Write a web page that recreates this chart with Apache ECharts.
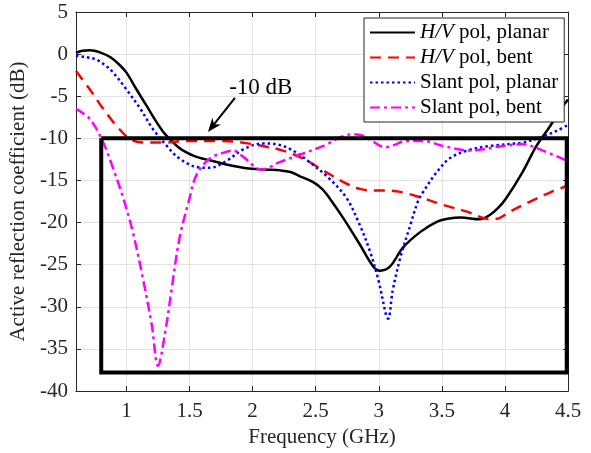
<!DOCTYPE html>
<html><head><meta charset="utf-8">
<script src="https://cdn.jsdelivr.net/npm/echarts@6/dist/echarts.min.js"></script>
<style>html,body{margin:0;padding:0;background:#fff}#c{width:591px;height:453px}</style>
</head><body><div id="c"></div>
<script>
// ---- data ----
const xTicks = [1, 1.5, 2, 2.5, 3, 3.5, 4, 4.5];
const yTicks = [5, 0, -5, -10, -15, -20, -25, -30, -35, -40];
const seriesNames = ['H/V pol, planar', 'H/V pol, bent', 'Slant pol, planar', 'Slant pol, bent'];

const hvPlanarX = [0.6,0.65,0.71,0.8,0.87,0.94,1.0,1.08,1.16,1.24,1.3,1.345,1.4,1.45,1.556,1.715,1.82,1.95,2.1,2.22,2.3,2.375,2.48,2.55,2.61,2.72,2.85,2.956,3.01,3.09,3.19,3.33,3.46,3.56,3.65,3.8,3.88,3.95,4.01,4.14,4.25,4.36,4.46,4.5];
const hvPlanarY = [0.15,0.4,0.45,0.15,-0.35,-1.2,-2.2,-4.2,-6.15,-8.1,-9.4,-10.1,-10.9,-11.45,-12.2,-12.8,-13.2,-13.55,-13.7,-13.8,-14.0,-14.5,-15.2,-16.0,-17.1,-19.5,-22.6,-25.2,-25.7,-25.2,-23.0,-21.1,-19.9,-19.5,-19.4,-19.6,-19.1,-18.2,-17.1,-14.0,-10.9,-8.5,-6.15,-5.4];

const hvBentX = [0.6,0.71,0.816,0.92,1.03,1.13,1.29,1.48,1.7,1.87,2.0,2.08,2.24,2.4,2.56,2.72,2.85,2.95,3.04,3.17,3.35,3.51,3.7,3.88,3.95,4.04,4.2,4.36,4.5];
const hvBentY = [-2.0,-4.2,-6.5,-8.5,-10.1,-10.5,-10.5,-10.3,-10.3,-10.4,-10.7,-10.9,-11.45,-12.4,-13.8,-15.2,-16.0,-16.2,-16.2,-16.35,-17.1,-17.9,-18.7,-19.6,-19.5,-18.7,-17.5,-16.4,-15.6];

const slPlanarX = [0.6,0.68,0.76,0.83,0.895,1.0,1.11,1.21,1.32,1.42,1.556,1.66,1.79,1.926,2.08,2.19,2.32,2.45,2.61,2.745,2.85,2.93,3.0,3.06,3.075,3.11,3.17,3.25,3.31,3.35,3.46,3.56,3.7,3.88,4.14,4.28,4.41,4.5];
const slPlanarY = [-0.2,-0.35,-0.65,-1.3,-2.2,-4.2,-6.5,-8.9,-10.9,-12.4,-13.4,-13.5,-12.7,-11.3,-10.6,-10.7,-11.45,-12.8,-14.8,-17.1,-20.3,-23.4,-27.0,-31.1,-31.4,-28.1,-24.2,-20.3,-17.5,-16.4,-14.0,-12.4,-11.45,-10.9,-10.5,-9.9,-9.1,-8.4];

const slBentX = [0.6,0.71,0.816,0.895,0.975,1.05,1.13,1.2,1.25,1.305,1.36,1.42,1.5,1.556,1.66,1.79,1.846,1.926,2.07,2.22,2.4,2.59,2.69,2.8,2.88,2.956,3.05,3.12,3.22,3.35,3.51,3.72,3.985,4.14,4.3,4.5];
const slBentY = [-6.5,-7.7,-10.5,-13.6,-17.1,-21.1,-26.6,-32.1,-37.0,-33.2,-27.7,-21.9,-17.1,-14.3,-12.4,-11.6,-11.45,-12.2,-13.7,-12.8,-11.8,-10.7,-9.9,-9.5,-9.7,-10.4,-11.05,-10.8,-10.3,-10.3,-10.9,-11.45,-10.9,-10.7,-11.45,-12.7];

const boxX = [0.8, 4.49, 4.49, 0.8, 0.8];
const boxY = [-10, -10, -37.8, -37.8, -10];
const arrowStart = [1.86, -5.2];
const arrowEnd = [1.646, -9.25];
const annotPos = [2.065, -4.0];
const annotText = '-10 dB';

// ---- chart ----
const zip = (xs, ys) => xs.map((x, i) => [x, ys[i]]);
const FONT = 'Liberation Serif';
const TXT = '#262626';
const FS = 21;
const chart = echarts.init(document.getElementById('c'), null, {renderer: 'canvas'});

function lineSeries(name, xs, ys, color, type, width) {
  return {
    name, type: 'line', data: zip(xs, ys), smooth: 0.35, symbol: 'none',
    lineStyle: {color, width, type, cap: 'butt'}, itemStyle: {color}, z: 3
  };
}

const option = {
  animation: false,
  backgroundColor: '#fff',
  grid: {left: 76, right: 23, top: 12, bottom: 59, containLabel: false},
  legend: {
    data: seriesNames,
    orient: 'vertical', left: 364, top: 18,
    padding: [4, 6, 4, 5], itemGap: 4, itemWidth: 45, itemHeight: 14,
    backgroundColor: '#fff', borderColor: TXT, borderWidth: 1, borderRadius: 0,
    itemStyle: {opacity: 0},
    textStyle: {fontFamily: FONT, fontSize: FS, color: '#000', lineHeight: 21,
      rich: {
        i: {fontFamily: FONT, fontSize: FS, fontStyle: 'italic', color: '#000', lineHeight: 21},
        n: {fontFamily: FONT, fontSize: FS, color: '#000', lineHeight: 21}
      }},
    formatter: n => n.startsWith('H/V') ? '{i|H/V}{n|' + n.slice(3) + '}' : '{n|' + n + '}'
  },
  xAxis: [{
    type: 'value', min: 0.6, max: 4.5, position: 'bottom',
    name: 'Frequency (GHz)', nameLocation: 'middle', nameGap: 32,
    nameTextStyle: {fontFamily: FONT, fontSize: FS, color: TXT},
    axisLine: {show: true, onZero: false, lineStyle: {color: TXT, width: 1}},
    axisTick: {show: true, inside: true, length: 5, customValues: xTicks, lineStyle: {color: TXT}},
    axisLabel: {customValues: xTicks, fontFamily: FONT, fontSize: FS, color: TXT, margin: 10,
      formatter: v => String(v)},
    splitLine: {show: true, lineStyle: {color: '#e3e3e3', width: 1}}
  }, {
    type: 'value', min: 0.6, max: 4.5, position: 'top',
    axisLine: {show: true, onZero: false, lineStyle: {color: TXT, width: 1}},
    axisTick: {show: true, inside: true, length: 5, customValues: xTicks, lineStyle: {color: TXT}},
    axisLabel: {show: false}, splitLine: {show: false}
  }],
  yAxis: [{
    type: 'value', min: -40, max: 5, interval: 5, position: 'left',
    name: 'Active reflection coefficient (dB)', nameLocation: 'middle', nameGap: 41, nameRotate: 90,
    nameTextStyle: {fontFamily: FONT, fontSize: FS, color: TXT},
    axisLine: {show: true, onZero: false, lineStyle: {color: TXT, width: 1}},
    axisTick: {show: true, inside: true, length: 5, lineStyle: {color: TXT}},
    axisLabel: {fontFamily: FONT, fontSize: FS, color: TXT, margin: 8, formatter: v => String(v)},
    splitLine: {show: true, lineStyle: {color: '#e3e3e3', width: 1}}
  }, {
    type: 'value', min: -40, max: 5, interval: 5, position: 'right',
    axisLine: {show: true, onZero: false, lineStyle: {color: TXT, width: 1}},
    axisTick: {show: true, inside: true, length: 5, lineStyle: {color: TXT}},
    axisLabel: {show: false}, splitLine: {show: false}
  }],
  series: [
    {
      name: 'box', type: 'line', data: zip(boxX, boxY), symbol: 'none', clip: false,
      lineStyle: {color: '#000', width: 4, join: 'miter'}, z: 4, silent: true
    },
    lineSeries(seriesNames[0], hvPlanarX, hvPlanarY, '#000000', 'solid', 2.5),
    lineSeries(seriesNames[1], hvBentX, hvBentY, '#ff0000', [11, 7], 2.5),
    lineSeries(seriesNames[2], slPlanarX, slPlanarY, '#0000ff', [2.5, 3], 2.5),
    lineSeries(seriesNames[3], slBentX, slBentY, '#ff00ff', [10, 4, 3, 4], 2.5)
  ]
};
chart.setOption(option);

// annotation: arrow and text placed through the axes' own scales
const p0 = chart.convertToPixel({gridIndex: 0}, arrowStart);
const p1 = chart.convertToPixel({gridIndex: 0}, arrowEnd);
const pt = chart.convertToPixel({gridIndex: 0}, annotPos);
const ang = Math.atan2(p1[1] - p0[1], p1[0] - p0[0]);
const headLen = 14, headW = 5.5, notch = 10;
const ux = Math.cos(ang), uy = Math.sin(ang);
const bx = p1[0] - ux * headLen, by = p1[1] - uy * headLen;
const nx = p1[0] - ux * notch, ny = p1[1] - uy * notch;
chart.setOption({
  graphic: [
    {type: 'line', z: 10, shape: {x1: p0[0], y1: p0[1], x2: nx, y2: ny}, style: {stroke: '#000', lineWidth: 2}},
    {type: 'polygon', z: 10, shape: {points: [
      [p1[0], p1[1]],
      [bx - uy * headW, by + ux * headW],
      [nx, ny],
      [bx + uy * headW, by - ux * headW]
    ]}, style: {fill: '#000'}},
    {type: 'text', z: 10, x: pt[0], y: pt[1], style: {text: annotText, fontFamily: FONT, fontSize: 23,
      fill: '#000', align: 'center', verticalAlign: 'middle'}}
  ]
});
</script></body></html>
